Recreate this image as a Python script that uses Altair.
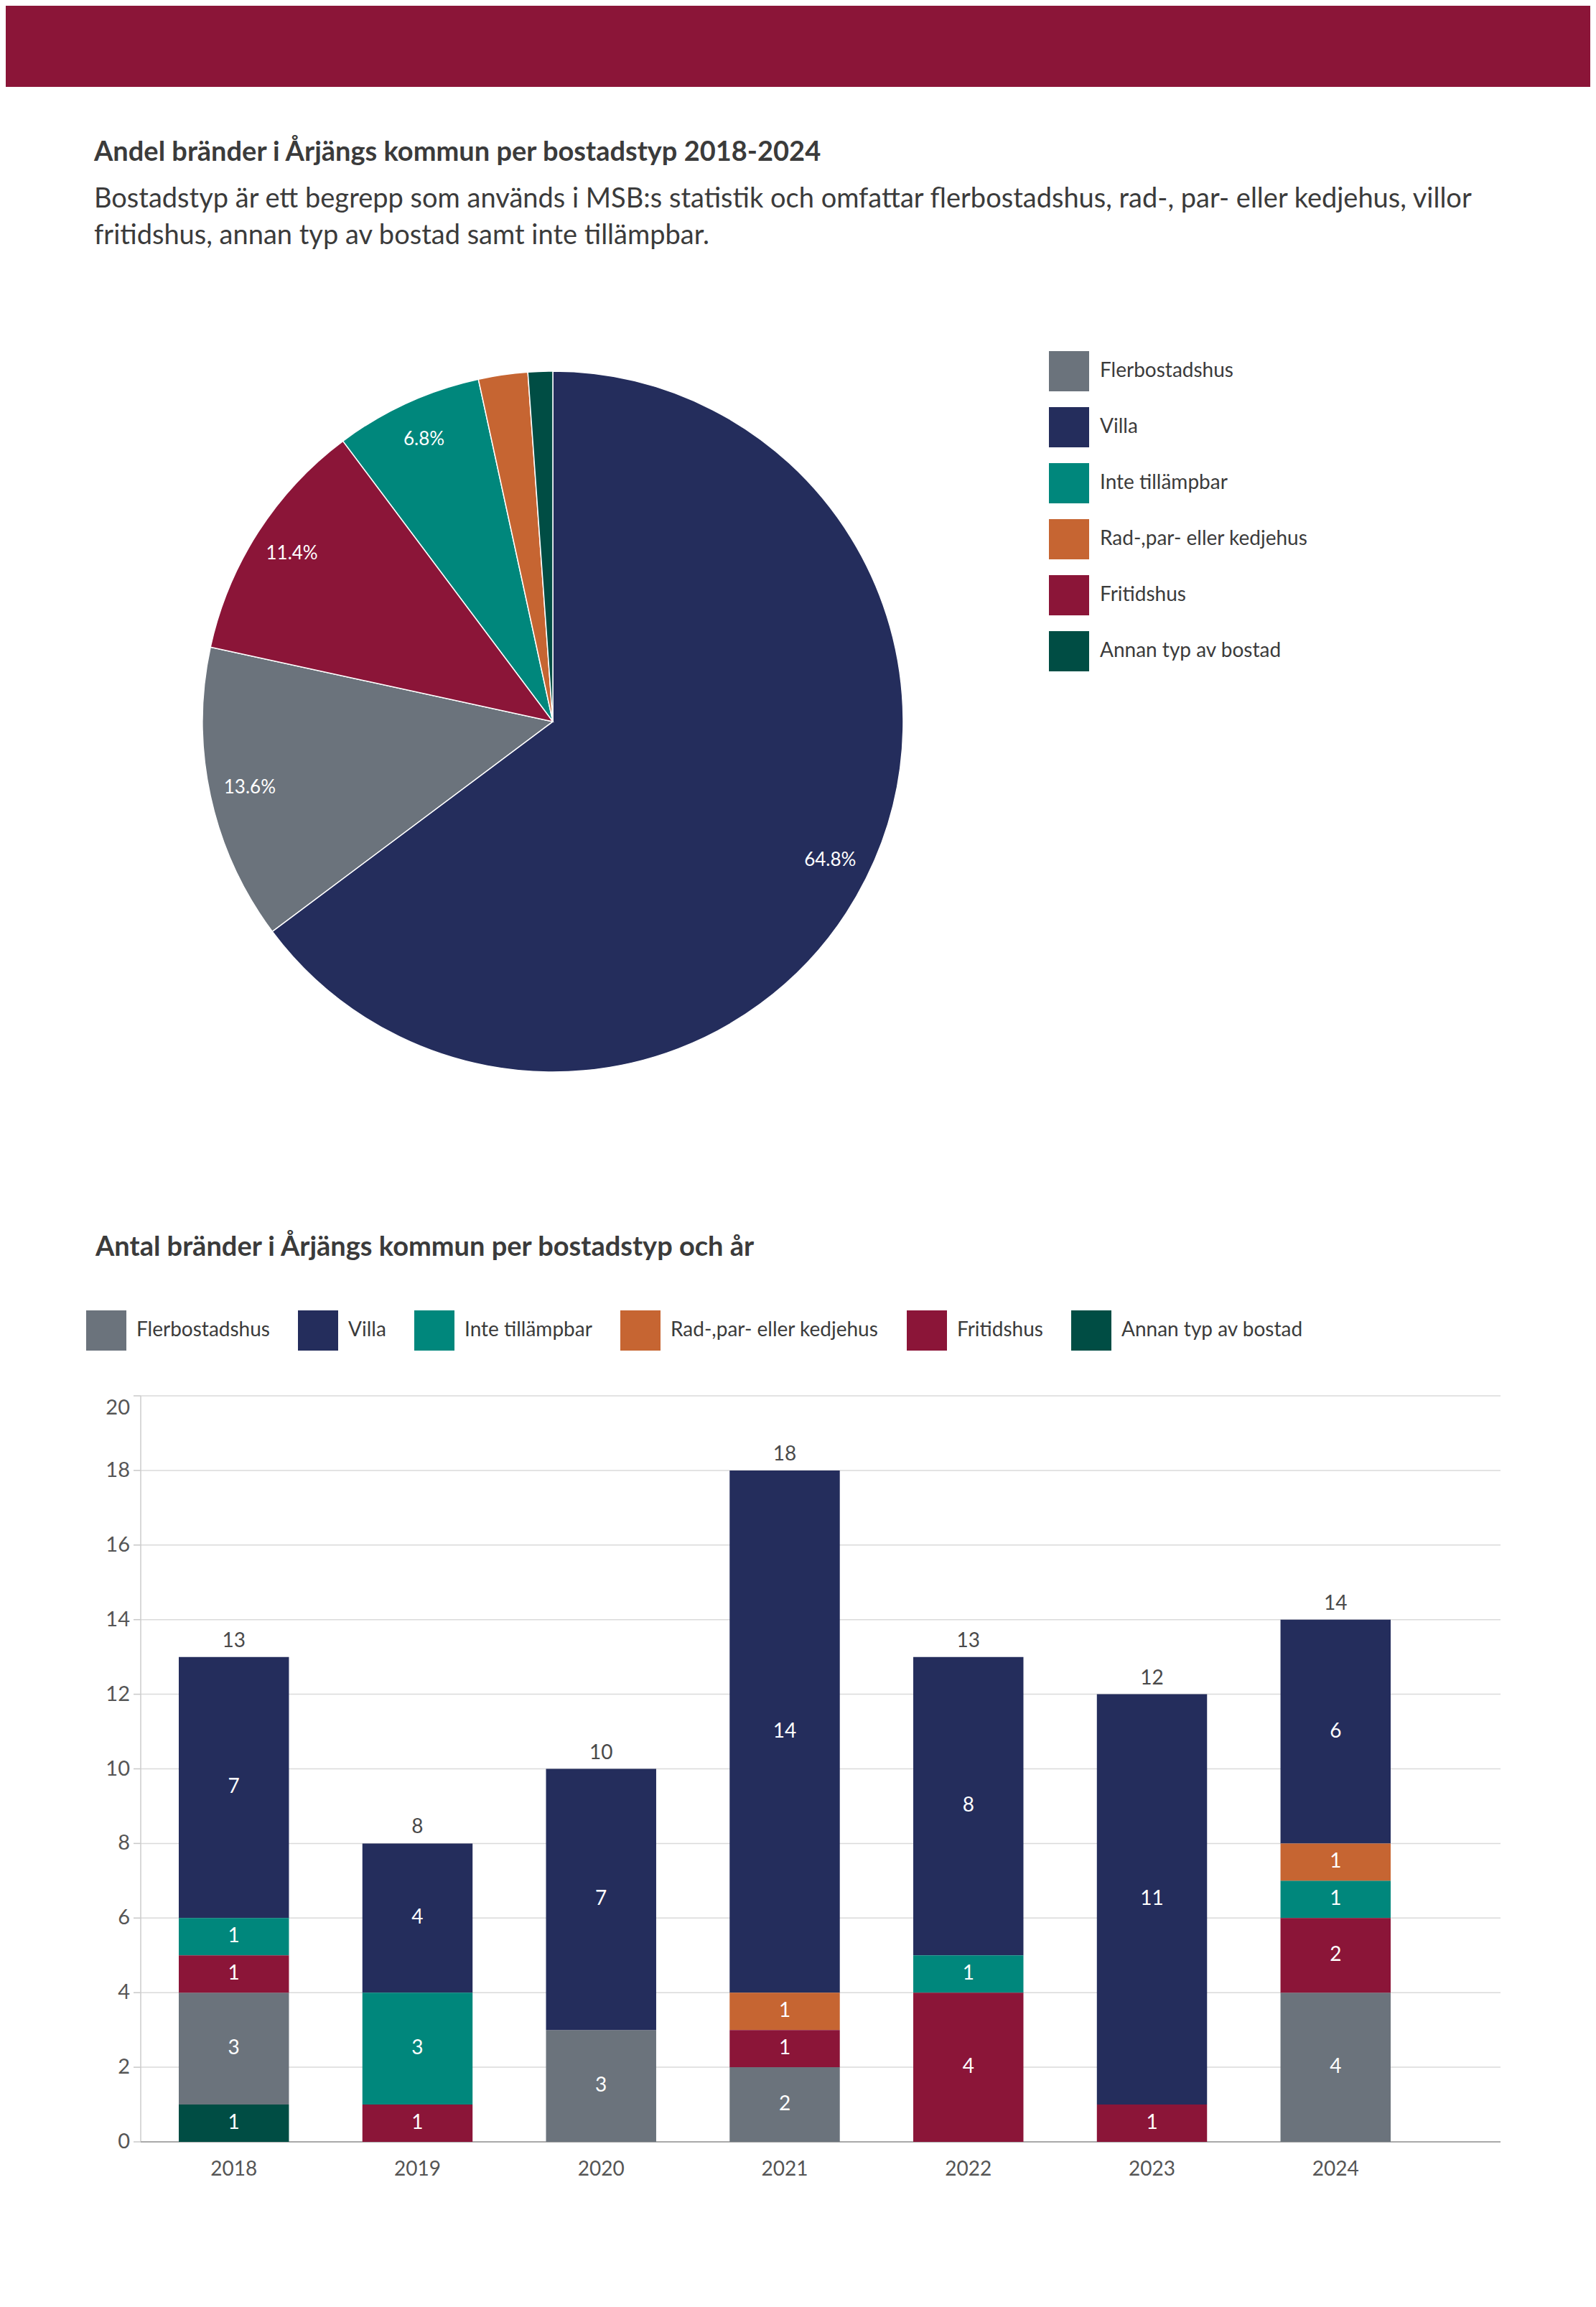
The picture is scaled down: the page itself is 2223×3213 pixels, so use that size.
import altair as alt
import pandas as pd

# ---------------- data ----------------
years = ["2018", "2019", "2020", "2021", "2022", "2023", "2024"]
types = ["Flerbostadshus", "Villa", "Inte tillämpbar",
         "Rad-,par- eller kedjehus", "Fritidshus", "Annan typ av bostad"]
colors = ["#6b737c", "#242d5c", "#00877c", "#c66532", "#8b1538", "#004d44"]

flerbostadshus = [3, 0, 3, 2, 0, 0, 4]
villa = [7, 4, 7, 14, 8, 11, 6]
inte_tillampbar = [1, 3, 0, 0, 1, 0, 1]
rad_par_kedjehus = [0, 0, 0, 1, 0, 0, 1]
fritidshus = [1, 1, 0, 1, 4, 1, 2]
annan_typ = [1, 0, 0, 0, 0, 0, 0]

# stacking order in bars (bottom -> top) and pie order (clockwise from top)
bar_order = ["Annan typ av bostad", "Flerbostadshus", "Fritidshus",
             "Inte tillämpbar", "Rad-,par- eller kedjehus", "Villa"]
pie_order = ["Villa", "Flerbostadshus", "Fritidshus", "Inte tillämpbar",
             "Rad-,par- eller kedjehus", "Annan typ av bostad"]

y_ticks = [0, 2, 4, 6, 8, 10, 12, 14, 16, 18, 20]

title1 = "Andel bränder i Årjängs kommun per bostadstyp 2018-2024"
subtitle1 = ("Bostadstyp är ett begrepp som används i MSB:s statistik och omfattar "
             "flerbostadshus, rad-, par- eller kedjehus, villor\n"
             "fritidshus, annan typ av bostad samt inte tillämpbar.")
title2 = "Antal bränder i Årjängs kommun per bostadstyp och år"

# ---------------- tables ----------------
series = {
    "Flerbostadshus": flerbostadshus,
    "Villa": villa,
    "Inte tillämpbar": inte_tillampbar,
    "Rad-,par- eller kedjehus": rad_par_kedjehus,
    "Fritidshus": fritidshus,
    "Annan typ av bostad": annan_typ,
}
rows = []
for t, vals in series.items():
    for y, v in zip(years, vals):
        rows.append({"ar": y, "typ": t, "antal": v,
                     "bar_ord": bar_order.index(t), "pie_ord": pie_order.index(t)})
df = pd.DataFrame(rows)
ticks_df = pd.DataFrame({"v": y_ticks})
one = pd.DataFrame({"t1": [title1], "s1": [subtitle1], "t2": [title2]})

FONT = "Lato"
TXT = "#3b3b3b"
AX = "#555555"
W, H = 2207, 3197

xscale = alt.Scale(domain=years, range=[241, 1929], paddingInner=0.4, paddingOuter=0)
yscale = alt.Scale(domain=[0, 20], range=[2975, 1936], nice=False, zero=True)

legend_pie = alt.Legend(orient="none", legendX=1453, legendY=481, direction="vertical",
                        title=None, symbolType="square", symbolSize=3136,
                        symbolStrokeWidth=0, labelFont=FONT, labelFontSize=28,
                        labelColor=TXT, labelOffset=15, rowPadding=22, padding=0,
                        labelLimit=800)
legend_bar = alt.Legend(orient="none", legendX=112, legendY=1817, direction="horizontal",
                        title=None, symbolType="square", symbolSize=3136,
                        symbolStrokeWidth=0, labelFont=FONT, labelFontSize=28,
                        labelColor=TXT, labelOffset=14, columnPadding=39, padding=0,
                        labelLimit=800)

# ---------------- header ----------------
header = alt.Chart(one).mark_rect(color="#8b1538").encode(
    x=alt.value(0), x2=alt.value(W), y=alt.value(0), y2=alt.value(113))

t1 = alt.Chart(one).mark_text(font=FONT, fontSize=38, fontWeight="bold", color=TXT,
                              align="left", baseline="alphabetic").encode(
    x=alt.value(123), y=alt.value(216), text="t1:N")

s1 = alt.Chart(one).mark_text(font=FONT, fontSize=38, color=TXT, align="left",
                              baseline="alphabetic", lineBreak="\n", lineHeight=51).encode(
    x=alt.value(123), y=alt.value(281), text="s1:N")

# ---------------- pie ----------------
pie_base = alt.Chart(df).transform_aggregate(
    antal="sum(antal)", groupby=["typ", "pie_ord"]
).transform_joinaggregate(total="sum(antal)").transform_calculate(
    label="datum.antal / datum.total >= 0.05 ? format(datum.antal / datum.total, '.1%') : ''"
)

pie = pie_base.mark_arc(radius=488, stroke="white", strokeWidth=1.5).encode(
    theta=alt.Theta("antal:Q", stack=True),
    fill=alt.Fill("typ:N", scale=alt.Scale(domain=types, range=colors), legend=legend_pie),
    order=alt.Order("pie_ord:Q"),
    x=alt.value(762), y=alt.value(997),
)

pie_text = pie_base.mark_text(radius=432, font=FONT, fontSize=26, color="white").encode(
    theta=alt.Theta("antal:Q", stack=True),
    order=alt.Order("pie_ord:Q"),
    text="label:N",
    x=alt.value(762), y=alt.value(997),
)

# ---------------- bar chart ----------------
t2 = alt.Chart(one).mark_text(font=FONT, fontSize=38, fontWeight="bold", color=TXT,
                              align="left", baseline="alphabetic").encode(
    x=alt.value(125), y=alt.value(1741), text="t2:N")

grid = alt.Chart(ticks_df).transform_filter("datum.v > 0").mark_rule(
    color="#dadada", strokeWidth=1.5).encode(
    y=alt.Y("v:Q", scale=yscale, axis=None), x=alt.value(188), x2=alt.value(2082))

tickmarks = alt.Chart(ticks_df).mark_rule(color="#c8c8c8", strokeWidth=1.5).encode(
    y=alt.Y("v:Q", scale=yscale, axis=None), x=alt.value(178), x2=alt.value(188))

left_axis = alt.Chart(one).mark_rule(color="#cccccc", strokeWidth=1.5).encode(
    x=alt.value(188), y=alt.value(1936), y2=alt.value(2975))

bottom_axis = alt.Chart(one).mark_rule(color="#aaaaaa", strokeWidth=2).encode(
    y=alt.value(2975), x=alt.value(188), x2=alt.value(2082))

bar_data = alt.Chart(df).transform_filter("datum.antal > 0")

bars = bar_data.mark_bar().encode(
    x=alt.X("ar:N", scale=xscale, axis=None),
    y=alt.Y("antal:Q", stack="zero", scale=yscale, axis=None),
    color=alt.Color("typ:N", sort=types, scale=alt.Scale(range=colors), legend=legend_bar),
    order=alt.Order("bar_ord:Q"),
)

seg_text = bar_data.transform_stack(
    stack="antal", groupby=["ar"], sort=[alt.SortField("bar_ord")], as_=["y0", "y1"]
).transform_calculate(mid="(datum.y0 + datum.y1) / 2").mark_text(
    font=FONT, fontSize=28, color="white", baseline="middle").encode(
    x=alt.X("ar:N", scale=xscale, axis=None),
    y=alt.Y("mid:Q", scale=yscale, axis=None),
    text="antal:Q",
)

totals = alt.Chart(df).transform_aggregate(total="sum(antal)", groupby=["ar"]).mark_text(
    font=FONT, fontSize=28, color="#4a4a4a", baseline="alphabetic", dy=-14).encode(
    x=alt.X("ar:N", scale=xscale, axis=None),
    y=alt.Y("total:Q", scale=yscale, axis=None),
    text="total:Q",
)

year_labels = alt.Chart(df).transform_aggregate(total="sum(antal)", groupby=["ar"]).mark_text(
    font=FONT, fontSize=28, color=AX, baseline="alphabetic").encode(
    x=alt.X("ar:N", scale=xscale, axis=None),
    y=alt.value(3022),
    text="ar:N",
)

ytick_labels = alt.Chart(ticks_df).transform_filter("datum.v < 20").mark_text(
    font=FONT, fontSize=29, color=AX, align="right", baseline="middle").encode(
    y=alt.Y("v:Q", scale=yscale, axis=None), x=alt.value(173), text="v:Q")

ytick_top = alt.Chart(ticks_df).transform_filter("datum.v == 20").mark_text(
    font=FONT, fontSize=29, color=AX, align="right", baseline="middle", dy=17).encode(
    y=alt.Y("v:Q", scale=yscale, axis=None), x=alt.value(173), text="v:Q")

chart = alt.layer(
    header, t1, s1, pie, pie_text, t2,
    grid, tickmarks, left_axis, bottom_axis,
    bars, seg_text, totals, year_labels, ytick_labels, ytick_top,
).properties(
    width=W, height=H, autosize=alt.AutoSizeParams(type="none"), padding=0,
    background="white",
).configure_view(stroke=None)

chart.save("out.html", embed_options={"renderer": "svg", "actions": False})
